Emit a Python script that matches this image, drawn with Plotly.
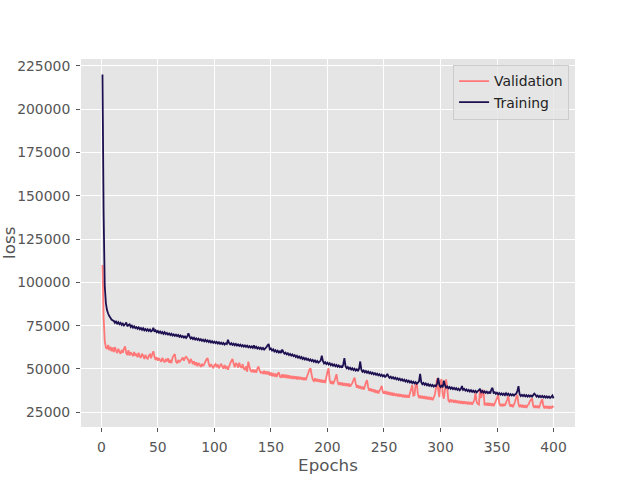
import plotly.graph_objects as go

# Loss values (in thousands) per epoch
training_k = [
    220, 140, 98, 88, 84, 82, 80.5, 79.5, 78.5, 78,
    77.8, 76.6, 77.4, 76.2, 77, 75.8, 76.6, 75.4, 76.2, 75.1,
    75.8, 76.8, 74.6, 75.4, 75.8, 74.2, 75, 73.8, 74.6, 73.6,
    74.2, 73.2, 74, 72.9, 73.6, 72.6, 73.5, 72.3, 73.1, 72.1,
    72.9, 71.9, 72.7, 71.7, 72.2, 73.8, 71.5, 72.3, 71.2, 71.9,
    70.9, 71.6, 70.6, 71.3, 70.3, 71.2, 70.1, 70.8, 69.8, 70.5,
    69.6, 70.3, 69.3, 70, 69.1, 69.8, 68.9, 69.6, 68.6, 69.3,
    68.4, 69, 68.1, 68.8, 67.9, 68.7, 70.6, 68.8, 67.6, 68.2,
    67.3, 68, 67, 67.7, 66.8, 67.5, 66.5, 67.2, 66.2, 66.9,
    66, 66.8, 65.8, 66.5, 65.5, 66.3, 65.3, 66, 65.1, 65.8,
    64.9, 65.6, 64.7, 65.4, 64.5, 65.2, 64.3, 65, 64.1, 64.8,
    64.4, 66.8, 65, 64.2, 64.9, 63.9, 64.6, 63.7, 64.4, 63.5,
    64.2, 63.3, 64, 63.1, 63.8, 62.9, 63.6, 62.7, 63.4, 62.5,
    63.2, 62.3, 63, 62.2, 63.6, 62.1, 62.8, 61.8, 62.5, 61.6,
    62.3, 61.4, 62.1, 61.2, 61.9, 62.6, 63.6, 64.4, 61.4, 61.8,
    60.6, 61.3, 60.1, 60.8, 59.8, 60.5, 59.5, 60.2, 59.2, 61.2,
    59.8, 58.8, 59.4, 58.4, 59.1, 58, 58.7, 57.7, 58.4, 57.4,
    58, 56.9, 57.6, 56.5, 57.2, 56.2, 56.9, 55.8, 56.5, 55.5,
    56.2, 55.2, 55.8, 54.8, 55.5, 54.5, 55.2, 54.2, 54.9, 53.9,
    54.6, 53.6, 54.2, 54.8, 57.6, 54.6, 53.2, 53.9, 52.9, 53.6,
    52.6, 53.3, 52.2, 52.9, 51.9, 52.6, 51.6, 52.3, 51.3, 52,
    51, 51.6, 50.7, 52.6, 56.2, 51.6, 50.4, 51.1, 50, 50.7,
    49.7, 50.4, 49.4, 50.1, 49.1, 49.8, 48.8, 50.2, 54.3, 49.6,
    48.4, 49.1, 48.1, 48.8, 47.8, 48.5, 47.5, 48.2, 47.2, 47.9,
    46.9, 47.6, 46.6, 47.3, 46.3, 47, 46, 46.7, 45.7, 46.4,
    45.4, 46, 47.2, 45.7, 44.9, 45.6, 44.6, 45.3, 44.3, 45,
    44, 44.7, 43.7, 44.4, 43.4, 44.1, 43.1, 43.8, 42.8, 43.5,
    42.5, 43.2, 42.2, 42.9, 41.9, 42.6, 41.7, 42.4, 41.4, 42.1,
    42.8, 47.2, 42.4, 41.2, 41.9, 40.9, 41.6, 40.6, 41.3, 40.3,
    41, 40.1, 40.8, 39.8, 40.5, 40.1, 41.6, 44.8, 40.6, 39.6,
    40.3, 39.4, 43.2, 40.6, 39.2, 39.9, 38.9, 39.6, 38.6, 39.3,
    38.4, 39.1, 38.2, 38.9, 37.9, 38.6, 37.7, 38.4, 40.1, 37.9,
    38.5, 37.5, 38.2, 37.2, 37.9, 37, 37.7, 36.8, 37.5, 36.6,
    37.3, 36.5, 37.2, 37.8, 38.6, 36.6, 37.3, 36.4, 37.1, 36.2,
    36.9, 36, 36.7, 35.9, 38.1, 39.1, 36.2, 36.6, 35.6, 36.3,
    35.4, 36.1, 35.2, 35.9, 35, 35.7, 34.9, 36, 35, 35.7,
    34.8, 35.5, 34.7, 35.4, 34.6, 35.3, 35.8, 37.2, 40.1, 35.4,
    34.4, 35.1, 34.3, 35, 34.2, 34.9, 34.1, 34.8, 34, 34.7,
    34, 34.9, 35.8, 35.1, 34, 34.6, 33.8, 34.5, 33.7, 34.4,
    33.6, 34.3, 33.5, 34.2, 33.4, 34.1, 33.3, 33.9, 34.7, 33,
]

validation_k = [
    110, 80, 66, 62.5, 61.5, 63.8, 60.8, 62.8, 60.2, 62.4,
    59.8, 62.6, 60.6, 59.2, 61.6, 60, 58.8, 61, 59.4, 61.8,
    63, 59.2, 58, 60.8, 57.8, 59.6, 58.6, 57.4, 59.8, 57.6,
    58.8, 56.8, 59.4, 57.2, 56.4, 58.8, 57.6, 55.8, 58.2, 56.6,
    55.6, 57.8, 58.4, 56.2, 58.6, 60.2, 57, 55.2, 56.8, 54.8,
    56.2, 55, 54.2, 56.4, 54.8, 53.8, 55.8, 54.4, 56.2, 53.6,
    55.2, 53.4, 56.6, 57.8, 58.6, 54.4, 53.2, 55.2, 53.8, 54.8,
    55.6, 56.6, 54.8, 56.4, 57, 56.2, 55, 53.2, 55.8, 54.6,
    52.8, 54.4, 52.2, 53.8, 51.6, 53.4, 52.4, 51.2, 53, 51.6,
    52.8, 54.2, 55.6, 56.2, 53.2, 51.2, 52.8, 51.6, 50.4, 52.2,
    52.8, 51, 52.6, 50.4, 51.8, 53, 51.4, 50.2, 52.2, 50.6,
    51.2, 49.6, 51.4, 53.2, 54.6, 55.8, 53.2, 51, 53.4, 52.6,
    50.8, 53.6, 51.4, 50.6, 52.8, 50.2, 49.4, 51.6, 48.4, 54.2,
    51.2, 49.1, 48.2, 49.7, 48, 49.5, 47.8, 50.2, 51.4, 49.1,
    47.8, 48.2, 47.2, 48.9, 47, 48.7, 46.8, 48.5, 46.2, 47.9,
    45.8, 47.6, 45.6, 47.4, 45.4, 47.2, 48, 45.6, 45.2, 46.9,
    45, 46.8, 44.8, 46.6, 44.6, 46.3, 44.5, 46.1, 44.3, 45.9,
    44.2, 45.8, 44, 45.6, 43.9, 45.5, 43.8, 45.2, 43.6, 45,
    43.6, 45.8, 47.6, 49.6, 50.4, 46.8, 43.8, 43, 44.6, 42.8,
    44.3, 42.5, 44, 42.3, 43.8, 42.1, 43.6, 41.9, 45.2, 48.2,
    50.4, 43.6, 41.4, 43, 41.2, 42.8, 44.8, 47, 42.6, 40.8,
    42.3, 40.6, 42.1, 40.4, 41.9, 40.2, 41.7, 40, 41.5, 39.8,
    40.9, 41.8, 43.6, 45, 41.6, 39.2, 40.6, 38.8, 40.2, 38.4,
    39.8, 38, 39.8, 42.2, 43.6, 39.6, 37.4, 38.8, 37, 38.4,
    36.6, 38, 36.2, 37.7, 35.9, 37.4, 38.7, 40.2, 36.8, 35.8,
    37.2, 35.4, 36.9, 35.1, 36.6, 34.8, 36.3, 34.6, 36.1, 34.4,
    35.8, 34.2, 35.6, 34, 35.4, 33.8, 35.2, 33.6, 35, 33.5,
    34.9, 33.4, 36.2, 38.2, 40.8, 34.6, 34.9, 40.8, 41.7, 35.6,
    33.2, 34.7, 33, 34.5, 32.8, 34.3, 32.6, 34.1, 32.4, 33.9,
    32.2, 33.7, 32, 33.5, 35.2, 39.2, 44.6, 37.8, 33.8, 43.2,
    44, 35.8, 32.8, 38.2, 44, 38.8, 31.8, 31, 32.5, 30.8,
    32.2, 30.6, 32, 30.4, 31.8, 30.2, 31.6, 30, 31.4, 29.9,
    31.3, 29.8, 31.2, 29.6, 31, 29.5, 30.9, 29.4, 30.8, 32.2,
    36, 30.8, 29.8, 29.4, 38, 33.2, 36, 38, 29, 30.5,
    28.9, 30.4, 28.8, 30.3, 28.7, 30.2, 28.6, 30.1, 31.6, 33.2,
    35, 30.3, 28.6, 29.9, 28.4, 29.8, 28.8, 30.6, 32.2, 34.4,
    29.8, 28.2, 29.6, 28, 29.4, 31.2, 33.6, 35, 29.8, 28,
    29.4, 27.8, 29.2, 27.7, 29.1, 27.6, 29, 29.6, 31.2, 32.2,
    33.1, 28.8, 27.6, 29, 27.5, 28.9, 27.4, 29.2, 31.2, 32.5,
    28.8, 27.3, 28.7, 27.2, 28.6, 27.1, 28.5, 27.2, 28.4, 27.8,
]

epochs = list(range(1, len(training_k) + 1))
training = [v * 1000 for v in training_k]
validation = [v * 1000 for v in validation_k]

x_ticks = [0, 50, 100, 150, 200, 250, 300, 350, 400]
y_ticks = [25000, 50000, 75000, 100000, 125000, 150000, 175000, 200000, 225000]

FONT = "DejaVu Sans"
GREY = "#555555"

fig = go.Figure()
fig.add_trace(go.Scatter(x=epochs, y=validation, mode="lines", name="Validation",
                         line=dict(color="#FF7777", width=1.8, simplify=False)))
fig.add_trace(go.Scatter(x=epochs, y=training, mode="lines", name="Training",
                         line=dict(color="#1E1050", width=1.8, simplify=False)))

fig.update_layout(
    width=640, height=480,
    margin=dict(l=81, r=65, t=59, b=53),
    paper_bgcolor="white",
    plot_bgcolor="#E5E5E5",
    font=dict(family=FONT, color=GREY, size=13.9),
    showlegend=True,
    legend=dict(x=0.988, y=0.985, xanchor="right", yanchor="top",
                bgcolor="rgba(229,229,229,0.8)", bordercolor="#CCCCCC", borderwidth=1,
                font=dict(family=FONT, size=13.9, color="#222222"),
                tracegroupgap=0, itemwidth=30),
    xaxis=dict(range=[-18, 419], tickvals=x_ticks, ticktext=[str(t) for t in x_ticks],
               showgrid=True, gridcolor="white", gridwidth=1, zeroline=False,
               ticks="outside", ticklen=4, tickcolor=GREY, tickwidth=1,
               ticklabelstandoff=3, automargin=False,
               tickfont=dict(size=13.9, color=GREY),
               title=dict(text="Epochs", font=dict(size=16.7, color=GREY), standoff=4),
               showline=False),
    yaxis=dict(range=[16500, 228900], tickvals=y_ticks, ticktext=[str(t) for t in y_ticks],
               showgrid=True, gridcolor="white", gridwidth=1, zeroline=False,
               ticks="outside", ticklen=4, tickcolor=GREY, tickwidth=1,
               ticklabelstandoff=3, automargin=False,
               tickfont=dict(size=13.9, color=GREY),
               showline=False),
    annotations=[dict(text="loss", xref="paper", yref="paper", x=-0.146, y=0.5,
                      xanchor="center", yanchor="middle", textangle=-90, showarrow=False,
                      font=dict(family=FONT, size=16.7, color=GREY))],
)

fig.write_html("out.html")
